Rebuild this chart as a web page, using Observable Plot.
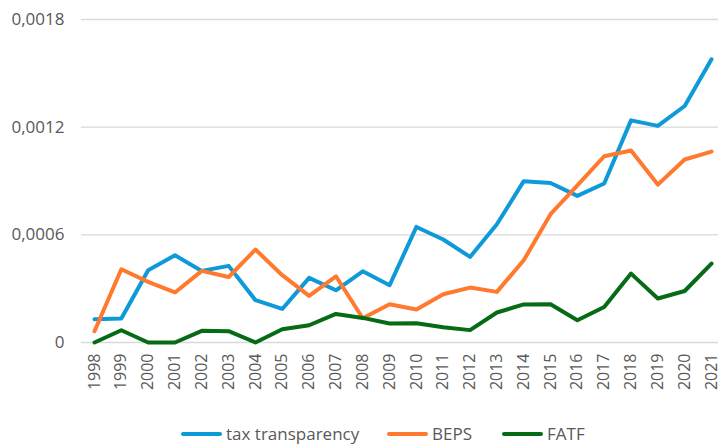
<!DOCTYPE html>
<html><head><meta charset="utf-8">
<script src="https://cdn.jsdelivr.net/npm/d3@7"></script>
<script src="https://cdn.jsdelivr.net/npm/@observablehq/plot@0.6"></script>
<style>
body{margin:0;background:#fff;font-family:"Open Sans",sans-serif;}
#legend{position:relative;height:27px;font-size:17px;color:#595959;}
.item{position:absolute;top:0;display:flex;align-items:center;height:27px;white-space:nowrap;}
.sw{display:inline-block;width:41px;height:4px;border-radius:2px;margin-right:4px;}
g[aria-label="x-axis tick label"]{font-size:16px;}
</style>
</head><body>
<div id="chart"></div>
<div id="legend"></div>
<script>
const years = [1998,1999,2000,2001,2002,2003,2004,2005,2006,2007,2008,2009,2010,2011,2012,2013,2014,2015,2016,2017,2018,2019,2020,2021];
const taxTransparency = [0.000130,0.000134,0.000403,0.000486,0.000399,0.000427,0.000236,0.000187,0.000360,0.000291,0.000397,0.000319,0.000644,0.000574,0.000477,0.000659,0.000899,0.000889,0.000817,0.000886,0.001238,0.001207,0.001318,0.001578];
const beps = [0.000063,0.000408,0.000338,0.000279,0.000399,0.000365,0.000518,0.000375,0.000260,0.000369,0.000135,0.000213,0.000184,0.000269,0.000306,0.000282,0.000458,0.000715,0.000875,0.001038,0.001070,0.000880,0.001020,0.001064];
const fatf = [0,0.0000685,0,0,0.000065,0.000063,0,0.000074,0.000096,0.000159,0.000137,0.000106,0.000107,0.000085,0.000069,0.000167,0.000212,0.000213,0.000124,0.000198,0.000384,0.000245,0.000287,0.000440];
const seriesNames = ["tax transparency","BEPS","FATF"];
const seriesColors = ["#0e9ad9","#ff7a2e","#056b15"];
const yTicks = [0,0.0006,0.0012,0.0018];

const seriesValues = [taxTransparency, beps, fatf];
const rows = [];
seriesValues.forEach((vals, s) => vals.forEach((v, i) => rows.push({year: years[i], value: v, series: seriesNames[s]})));

const fmt = d => d === 0 ? "0" : d.toFixed(4).replace(".", ",");

const chart = Plot.plot({
  width: 718,
  height: 420,
  marginTop: 19,
  marginBottom: 78,
  marginLeft: 94,
  marginRight: 7,
  style: {fontFamily: "'Open Sans', sans-serif", fontSize: "17px", color: "#595959", background: "#fff"},
  x: {type: "linear", domain: [1998, 2021], ticks: years, tickFormat: d => String(d), tickRotate: -90, tickSize: 0, tickPadding: 11, label: null},
  y: {domain: [0, 0.0018], ticks: yTicks, tickFormat: fmt, tickSize: 0, tickPadding: 30, label: null},
  color: {domain: seriesNames, range: seriesColors},
  marks: [
    Plot.ruleY(yTicks, {stroke: "#d9d9d9", strokeWidth: 1.3, insetLeft: -13, insetRight: -7}),
    Plot.line(rows, {x: "year", y: "value", z: "series", stroke: "series", strokeWidth: 4, strokeLinejoin: "round", strokeLinecap: "round"})
  ]
});
document.getElementById("chart").appendChild(chart);

const legend = document.getElementById("legend");
const lefts = [181, 387, 502];
seriesNames.forEach((n, i) => {
  const it = document.createElement("div");
  it.className = "item";
  it.style.left = lefts[i] + "px";
  it.innerHTML = `<span class="sw" style="background:${seriesColors[i]}"></span><span>${n}</span>`;
  legend.appendChild(it);
});
</script>
</body></html>
